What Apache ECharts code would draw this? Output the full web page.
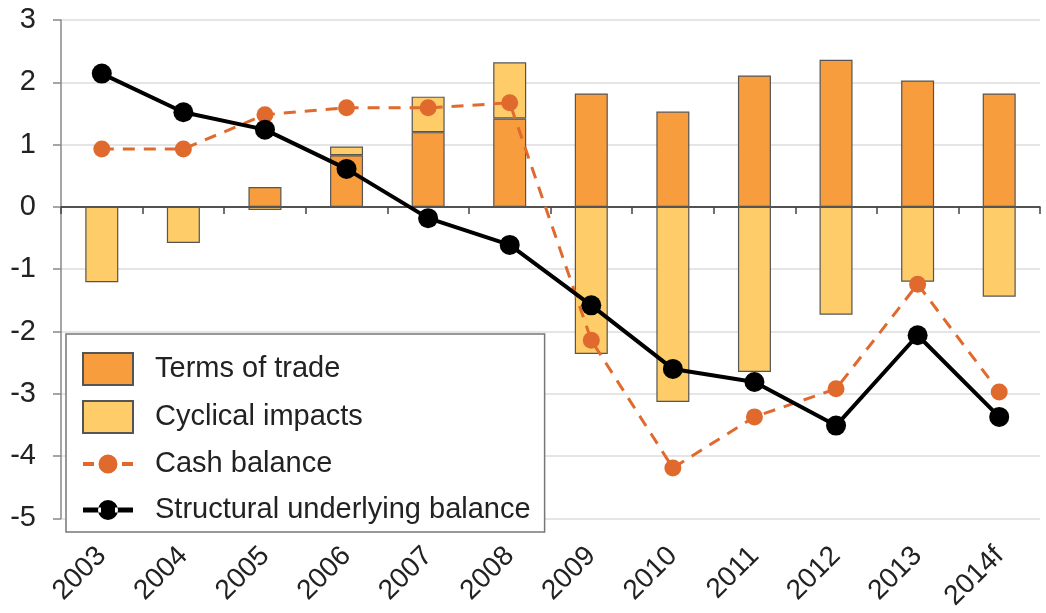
<!DOCTYPE html>
<html>
<head>
<meta charset="utf-8">
<script src="https://cdn.jsdelivr.net/npm/echarts@6/dist/echarts.min.js"></script>
<style>
  html, body { margin: 0; padding: 0; background: #fff; }
  #chart { width: 1046px; height: 613px; }
</style>
</head>
<body>
<div id="chart"></div>
<script>
// categories
const years = ['2003', '2004', '2005', '2006', '2007', '2008', '2009', '2010', '2011', '2012', '2013', '2014f'];
// stacked bars
const termsOfTrade = [null, null, 0.32, 0.83, 1.2, 1.42, 1.82, 1.53, 2.11, 2.36, 2.03, 1.82];
const cyclicalImpacts = [-1.21, -0.58, -0.05, 0.14, 0.57, 0.9, -2.36, -3.13, -2.65, -1.73, -1.2, -1.44];
// lines
const cashBalance = [0.93, 0.93, 1.48, 1.59, 1.59, 1.67, -2.14, -4.19, -3.37, -2.92, -1.24, -2.97];
const structuralBalance = [2.14, 1.52, 1.24, 0.61, -0.18, -0.61, -1.58, -2.6, -2.81, -3.51, -2.06, -3.37];

const FONT = 'Liberation Sans, Arial, sans-serif';

// legend icons for the lines: 50x32 box, tiny corner dots keep the box size
const boxCorners = 'M0,0h0.01v0.01h-0.01Z M50,32h-0.01v-0.01h0.01Z ';
const cashIcon = 'path://' + boxCorners +
    'M0,14H11V18H0Z M39,14H50V18H39Z M15.5,16A9.5,9.5 0 1,0 34.5,16A9.5,9.5 0 1,0 15.5,16Z';
const structIcon = 'path://' + boxCorners +
    'M0,13.5H18V18.5H0Z M32,13.5H50V18.5H32Z M15,16A10,10 0 1,0 35,16A10,10 0 1,0 15,16Z';

const myChart = echarts.init(document.getElementById('chart'));

const option = {
    animation: false,
    backgroundColor: '#fff',
    grid: { left: 61, right: 6, top: 20, bottom: 91, containLabel: false },
    legend: {
        orient: 'vertical',
        left: 66,
        top: 334,
        padding: [18, 14, 6, 16],
        itemWidth: 50,
        itemHeight: 32,
        itemGap: 14,
        borderColor: '#777',
        borderWidth: 1.5,
        backgroundColor: '#fff',
        textStyle: { fontFamily: FONT, fontSize: 29, color: '#222', padding: [0, 0, 0, 17] },
        data: [
            { name: 'Terms of trade', icon: 'rect' },
            { name: 'Cyclical impacts', icon: 'rect' },
            { name: 'Cash balance', icon: cashIcon },
            { name: 'Structural underlying balance', icon: structIcon }
        ]
    },
    xAxis: [
        {
            // labels at the bottom
            type: 'category',
            data: years,
            position: 'bottom',
            axisLine: { show: false, onZero: false },
            axisTick: { show: false },
            axisLabel: { rotate: 45, fontFamily: FONT, fontSize: 28, color: '#222', margin: 33 }
        },
        {
            // axis line at zero
            type: 'category',
            data: years,
            position: 'top',
            axisLine: { show: true, onZero: true, lineStyle: { color: '#222', width: 1.5 } },
            axisTick: { show: true, inside: true, length: 7, lineStyle: { color: '#444', width: 1.5 } },
            axisLabel: { show: false }
        }
    ],
    yAxis: {
        type: 'value',
        min: -5,
        max: 3,
        interval: 1,
        axisLine: { show: true, lineStyle: { color: '#888', width: 1.5 } },
        axisTick: { show: true, length: 8, lineStyle: { color: '#888', width: 1.5 } },
        axisLabel: { fontFamily: FONT, fontSize: 29, color: '#222', margin: 25 },
        splitLine: { lineStyle: { color: '#dcdcdc', width: 1.5 } }
    },
    series: [
        {
            name: 'Terms of trade',
            type: 'bar',
            stack: 'impacts',
            data: termsOfTrade,
            barWidth: 33,
            itemStyle: { color: '#F89D3D', borderColor: '#555', borderWidth: 1.2 }
        },
        {
            name: 'Cyclical impacts',
            type: 'bar',
            stack: 'impacts',
            data: cyclicalImpacts,
            barWidth: 33,
            itemStyle: { color: '#FECD6A', borderColor: '#555', borderWidth: 1.2 }
        },
        {
            name: 'Cash balance',
            type: 'line',
            data: cashBalance,
            symbol: 'circle',
            symbolSize: 17,
            itemStyle: { color: '#E06A2E' },
            lineStyle: { color: '#E06A2E', width: 3, type: [12, 9] }
        },
        {
            name: 'Structural underlying balance',
            type: 'line',
            data: structuralBalance,
            symbol: 'circle',
            symbolSize: 20,
            itemStyle: { color: '#000' },
            lineStyle: { color: '#000', width: 4 }
        }
    ]
};

myChart.setOption(option);
</script>
</body>
</html>
